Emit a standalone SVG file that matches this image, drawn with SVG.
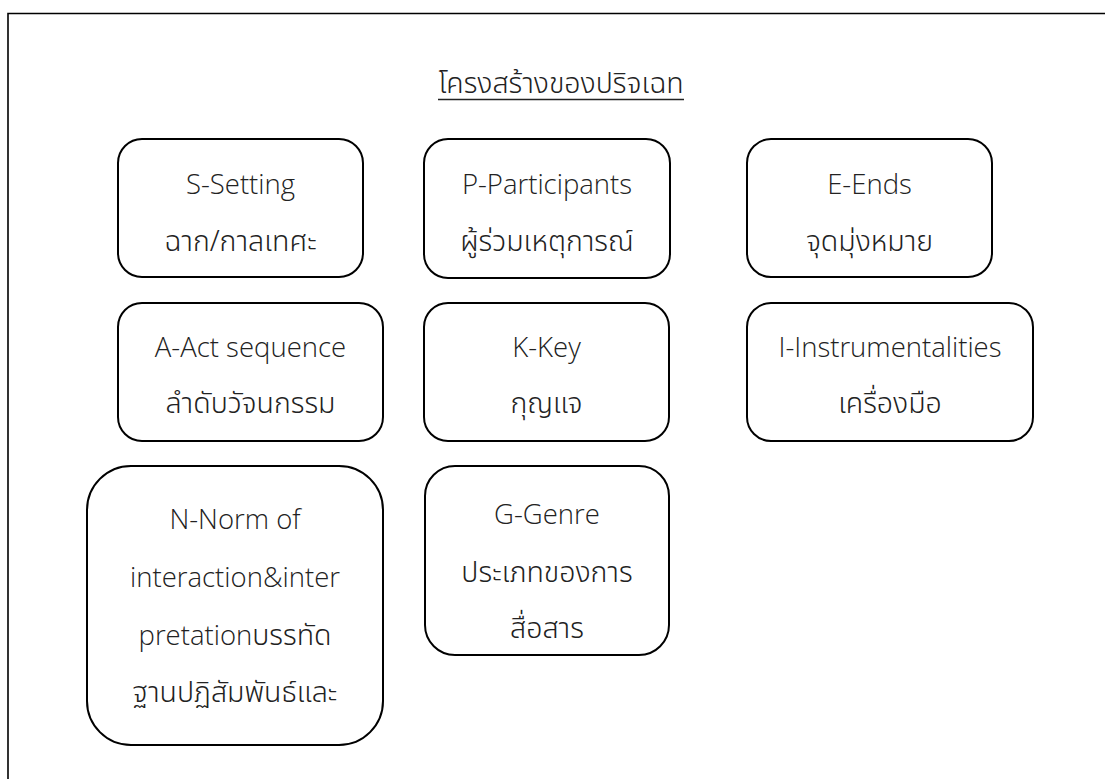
<svg xmlns="http://www.w3.org/2000/svg" width="1105" height="779" viewBox="0 0 1105 779">
<style>
.box{fill:#fff;stroke:#000;stroke-width:2}
.t{font-family:"Open Sans","Noto Sans",sans-serif;font-size:27.5px;font-weight:300;fill:#222;text-anchor:middle}
.th{font-family:"Noto Sans Thai","Noto Sans","Noto Sans CJK SC",sans-serif;font-size:28.5px;font-weight:300;fill:#222;text-anchor:middle}
tspan.th{text-anchor:start}
</style>
<rect x="0" y="0" width="1105" height="779" fill="#fff"/>
<path d="M8 790 V13.5 H1110" fill="none" stroke="#000" stroke-width="1.6"/>
<g id="title">
<text class="th" x="561" y="93">โครงสร้างของปริจเฉท</text>
<line x1="438" y1="99.5" x2="684" y2="99.5" stroke="#222" stroke-width="1.5"/>
</g>
<g id="connectors"></g>
<g id="node-s">
<rect class="box" x="118" y="139" width="245" height="138" rx="24"/>
<text class="t" x="240.5" y="194">S-Setting</text>
<text class="th" x="240.5" y="251">ฉาก/กาลเทศะ</text>
</g>
<g id="node-p">
<rect class="box" x="424" y="139" width="246" height="139" rx="24"/>
<text class="t" x="547" y="194">P-Participants</text>
<text class="th" x="547" y="251">ผู้ร่วมเหตุการณ์</text>
</g>
<g id="node-e">
<rect class="box" x="747" y="139" width="245" height="138" rx="24"/>
<text class="t" x="869.5" y="194">E-Ends</text>
<text class="th" x="869.5" y="251">จุดมุ่งหมาย</text>
</g>
<g id="node-a">
<rect class="box" x="118" y="303" width="265" height="138" rx="24"/>
<text class="t" x="250.5" y="357">A-Act sequence</text>
<text class="th" x="250.5" y="413">ลำดับวัจนกรรม</text>
</g>
<g id="node-k">
<rect class="box" x="424" y="303" width="245" height="138" rx="24"/>
<text class="t" x="546.5" y="357">K-Key</text>
<text class="th" x="546.5" y="413">กุญแจ</text>
</g>
<g id="node-i">
<rect class="box" x="747" y="303" width="286" height="138" rx="24"/>
<text class="t" x="890" y="357">I-Instrumentalities</text>
<text class="th" x="890" y="413">เครื่องมือ</text>
</g>
<g id="node-n">
<rect class="box" x="87" y="466" width="296" height="279" rx="44"/>
<text class="t" x="235" y="529">N-Norm of</text>
<text class="t" x="235" y="587">interaction&amp;inter</text>
<text class="t" x="235" y="645">pretation<tspan class="th">บรรทัด</tspan></text>
<text class="th" x="235" y="702">ฐานปฏิสัมพันธ์และ</text>
</g>
<g id="node-g">
<rect class="box" x="425" y="466" width="244" height="189" rx="30"/>
<text class="t" x="547" y="524">G-Genre</text>
<text class="th" x="547" y="582">ประเภทของการ</text>
<text class="th" x="547" y="638">สื่อสาร</text>
</g>
</svg>
